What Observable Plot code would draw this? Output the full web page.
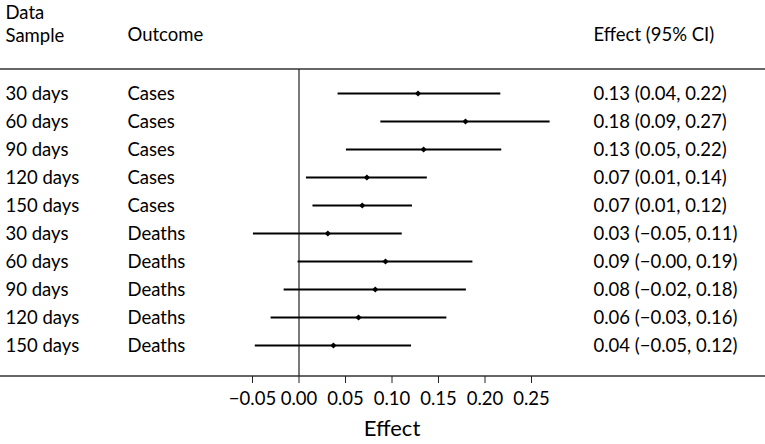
<!DOCTYPE html>
<html><head><meta charset="utf-8">
<script src="https://cdn.jsdelivr.net/npm/d3@7"></script>
<script src="https://cdn.jsdelivr.net/npm/@observablehq/plot@0.6"></script>
<style>body{margin:0;background:#fff}</style>
</head><body><div id="chart"></div>
<script>
const samples = ["30 days","60 days","90 days","120 days","150 days","30 days","60 days","90 days","120 days","150 days"];
const outcomes = ["Cases","Cases","Cases","Cases","Cases","Deaths","Deaths","Deaths","Deaths","Deaths"];
const effects = [0.128,0.179,0.134,0.073,0.068,0.031,0.093,0.082,0.064,0.037];
const lower = [0.042,0.088,0.051,0.008,0.015,-0.049,-0.001,-0.016,-0.030,-0.047];
const upper = [0.217,0.270,0.218,0.138,0.122,0.111,0.187,0.180,0.159,0.121];
const ciLabels = ["0.13 (0.04, 0.22)","0.18 (0.09, 0.27)","0.13 (0.05, 0.22)","0.07 (0.01, 0.14)","0.07 (0.01, 0.12)",
  "0.03 (\u22120.05, 0.11)","0.09 (\u22120.00, 0.19)","0.08 (\u22120.02, 0.18)","0.06 (\u22120.03, 0.16)","0.04 (\u22120.05, 0.12)"];
const xTicks = [-0.05,0,0.05,0.10,0.15,0.20,0.25];
const headers = ["Data\nSample","Outcome","Effect (95% CI)"];
const xLabel = "Effect";

const rows = samples.map((s,i)=>({key:i, sample:s, outcome:outcomes[i], est:effects[i], lo:lower[i], hi:upper[i], ci:ciLabels[i]}));

const borders = (index, scales, values, dims) => {
  const g = d3.create("svg:g");
  for (const yy of [dims.marginTop, dims.height - dims.marginBottom]) {
    g.append("line").attr("x1",0).attr("x2",dims.width).attr("y1",yy).attr("y2",yy)
      .attr("stroke","#333").attr("stroke-width",1.4);
  }
  return g.node();
};

const FS = 18.5;
const chart = Plot.plot({
  width: 765, height: 444,
  marginLeft: 0, marginRight: 0, marginTop: 69, marginBottom: 68,
  style: {fontFamily: "Lato, 'Open Sans', sans-serif", fontSize: FS + "px", color: "#000", background: "#fff"},
  x: {domain: [-0.32097, 0.50161], axis: null},
  y: {type: "point", domain: rows.map(d=>d.key), padding: 0, insetTop: 21, insetBottom: 28.5, axis: null},
  marks: [
    borders,
    Plot.ruleX([0], {stroke: "#222", strokeWidth: 1.2}),
    Plot.ruleY(rows, {y: "key", x1: "lo", x2: "hi", stroke: "#000", strokeWidth: 1.8}),
    Plot.dot(rows, {y: "key", x: "est", r: 2.8, fill: "#000", symbol: "diamond2"}),
    Plot.text(rows, {y: "key", text: "sample", frameAnchor: "left", textAnchor: "start", dx: 5, dy: 1, fontSize: FS, fill: "#000"}),
    Plot.text(rows, {y: "key", text: "outcome", frameAnchor: "left", textAnchor: "start", dx: 127, dy: 1, fontSize: FS, fill: "#000"}),
    Plot.text(rows, {y: "key", text: "ci", frameAnchor: "left", textAnchor: "start", dx: 593, dy: 1, fontSize: FS, fill: "#000"}),
    Plot.text([headers[0]], {text: d=>d, frameAnchor: "top-left", textAnchor: "start", lineAnchor: "middle", lineHeight: 1.25, dx: 5, dy: -46, fontSize: FS, fill: "#000"}),
    Plot.text([headers[1]], {text: d=>d, frameAnchor: "top-left", textAnchor: "start", lineAnchor: "middle", dx: 127, dy: -34, fontSize: FS, fill: "#000"}),
    Plot.text([headers[2]], {text: d=>d, frameAnchor: "top-left", textAnchor: "start", lineAnchor: "middle", dx: 593, dy: -34, fontSize: FS, fill: "#000"}),
    Plot.axisX({ticks: xTicks, tickFormat: d3.format(".2f"), tickSize: 7, tickPadding: 8, fontSize: FS, label: null, stroke: "#222", fill: "#000"}),
    Plot.text([xLabel], {x: () => (xTicks[0] + xTicks[xTicks.length-1]) / 2, text: d=>d, frameAnchor: "bottom", lineAnchor: "middle", dy: 52, fontSize: 22, fill: "#000"})
  ]
});
document.getElementById("chart").append(chart);
</script>
</body></html>
